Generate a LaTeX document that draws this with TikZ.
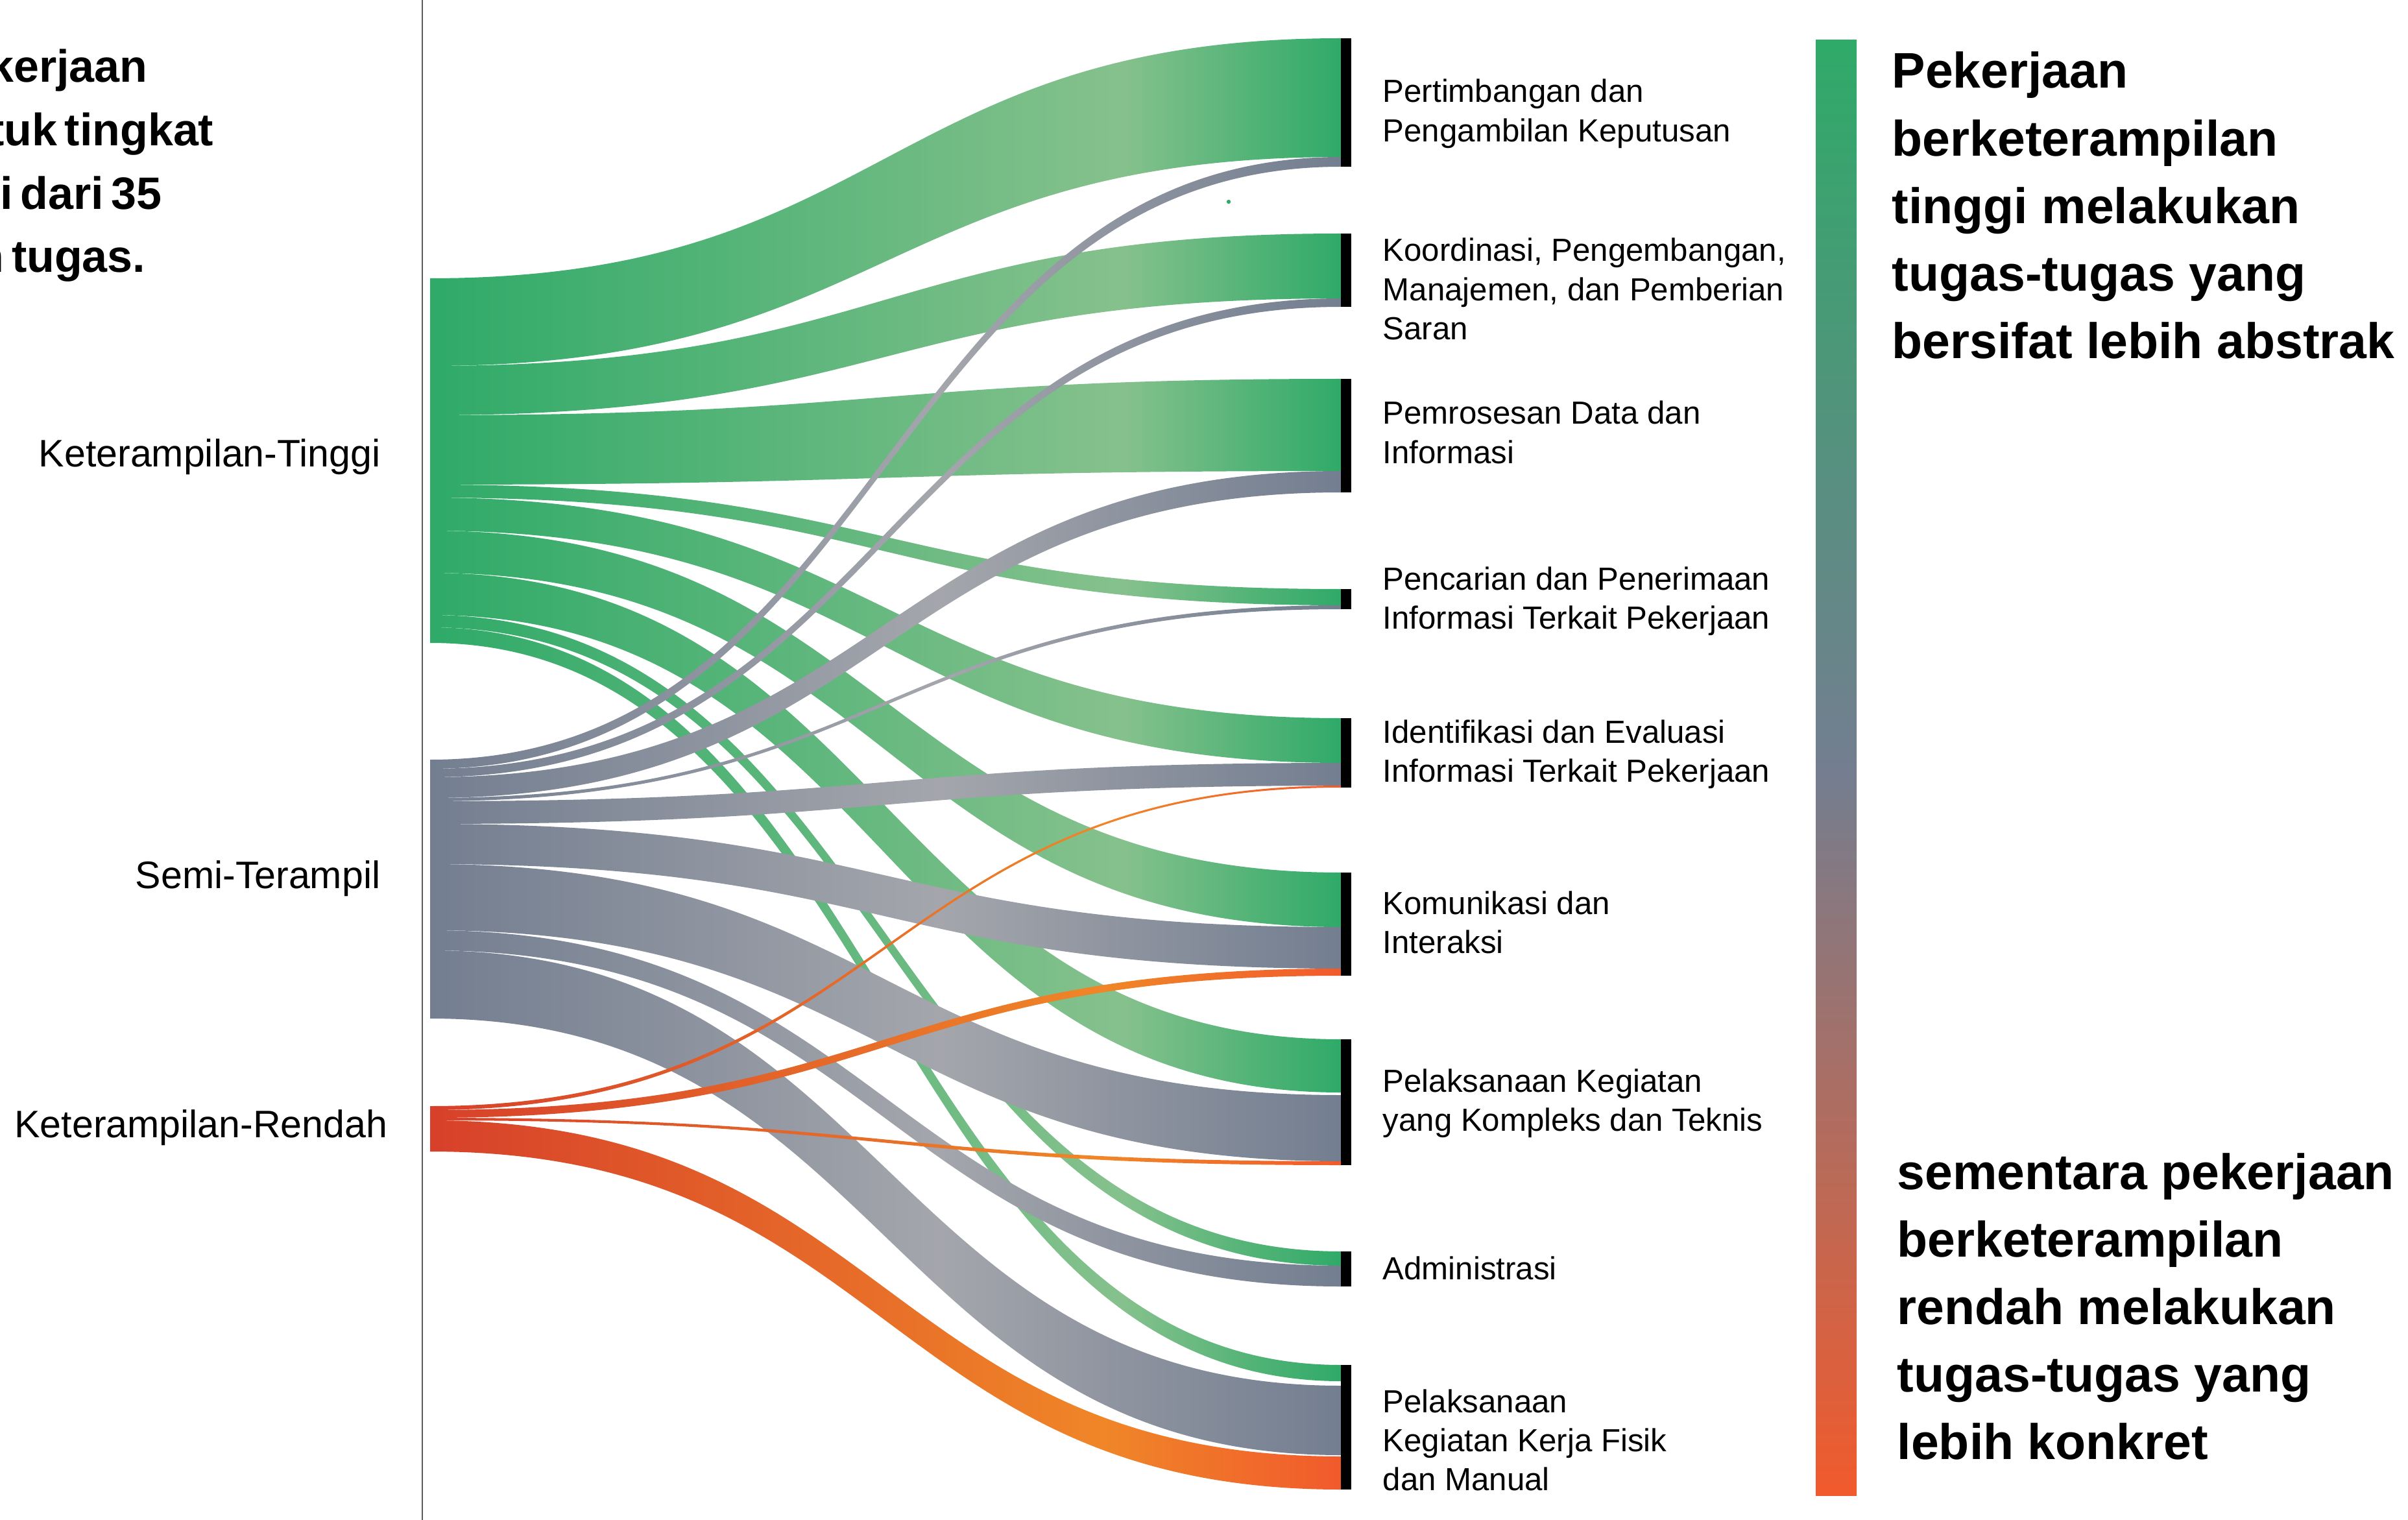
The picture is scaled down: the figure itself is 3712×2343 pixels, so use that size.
\documentclass[tikz,border=0pt]{standalone}
\usepackage{fontspec}
\setmainfont{Liberation Sans}
\newfontfamily\leftheadfont{Liberation Sans Bold}[WordSpace=0.6]
\usetikzlibrary{fit}
\definecolor{cg}{RGB}{47,170,104}
\definecolor{cgl}{RGB}{134,193,141}
\definecolor{cs}{RGB}{115,126,144}
\definecolor{csl}{RGB}{164,166,172}
\definecolor{coa}{RGB}{215,64,42}
\definecolor{cob}{RGB}{240,134,40}
\definecolor{coc}{RGB}{241,90,44}
\definecolor{rule}{RGB}{90,90,90}
\pgfdeclarehorizontalshading{gflow}{100bp}{color(0bp)=(cg); color(25bp)=(cg); color(63bp)=(cgl); color(75bp)=(cg); color(100bp)=(cg)}
\pgfdeclarehorizontalshading{sflow}{100bp}{color(0bp)=(cs); color(25bp)=(cs); color(53bp)=(csl); color(75bp)=(cs); color(100bp)=(cs)}
\pgfdeclarehorizontalshading{oflow}{100bp}{color(0bp)=(coa); color(25bp)=(coa); color(62bp)=(cob); color(75bp)=(coc); color(100bp)=(coc)}
\pgfdeclareverticalshading{cbarshade}{100bp}{color(0bp)=(coc); color(25bp)=(coc); color(50bp)=(cs); color(75bp)=(cg); color(100bp)=(cg)}
\newcommand\flowband[5]{%
  \shade[shading=#1] (663,#2) .. controls (1365,#2) and (1365,#4) .. (2067,#4) -- (2067,#5) .. controls (1365,#5) and (1365,#3) .. (663,#3) -- cycle;}
\newcommand\lines[1]{\begin{tabular}[t]{@{}l@{}}#1\end{tabular}}
\begin{document}
\begin{tikzpicture}[x=0.01cm,y=-0.01cm,
  bar/.style={inner sep=0pt, fill=black, draw=none},
  tasklabel/.style={anchor=base west, inner sep=0pt, font=\fontsize{14pt}{17.2pt}\selectfont},
  srclabel/.style={anchor=base east, inner sep=0pt, font=\fontsize{16.8pt}{20pt}\selectfont},
  headr/.style={anchor=base west, inner sep=0pt, font=\fontsize{21.9pt}{29.6pt}\selectfont\bfseries},
  headl/.style={anchor=base east, inner sep=0pt, font=\fontsize{19.9pt}{27.7pt}\selectfont\leftheadfont}]
\useasboundingbox (0,0) rectangle (3712,2343);
\fill[white] (0,0) rectangle (3712,2343);

% left headline (cut off at the page edge)
\node[headl] (h1) at (228,127) {kerjaan};
\node[headl] (h2) at (330,225) {tuk tingkat};
\node[headl] (h3) at (250,323) {i dari 35};
\node[headl] (h4) at (225,420) {n tugas.};

% vertical rule
\coordinate (rtop) at (651,0);
\coordinate (rbot) at (651,2343);
\draw[rule, line width=0.6pt] (rtop) -- (rbot);

% source labels
\node[srclabel] (kt) at (587,719) {Keterampilan-Tinggi};
\node[srclabel] (st) at (587,1369) {Semi-Terampil};
\node[srclabel] (kr) at (598,1753) {Keterampilan-Rendah};

% flows: high-skilled
\flowband{gflow}{429}{564}{59}{242}
\flowband{gflow}{564}{640}{360}{460}
\flowband{gflow}{640}{747}{584}{726}
\flowband{gflow}{747}{767}{908}{933}
\flowband{gflow}{767}{818}{1107}{1176}
\flowband{gflow}{818}{883}{1345}{1429}
\flowband{gflow}{883}{948}{1602}{1684}
\flowband{gflow}{948}{967}{1929}{1951}
\flowband{gflow}{967}{991}{2104}{2129}
% flows: semi-skilled
\flowband{sflow}{1171}{1185}{242}{257}
\flowband{sflow}{1185}{1198}{460}{473}
\flowband{sflow}{1198}{1230}{726}{759}
\flowband{sflow}{1230}{1235}{933}{939}
\flowband{sflow}{1235}{1270}{1176}{1211}
\flowband{sflow}{1270}{1332}{1429}{1493}
\flowband{sflow}{1332}{1434}{1688}{1790}
\flowband{sflow}{1434}{1465}{1951}{1983}
\flowband{sflow}{1465}{1570}{2136}{2243}
% flows: low-skilled
\flowband{oflow}{1705}{1711}{1211}{1214}
\flowband{oflow}{1711}{1723}{1493}{1504}
\flowband{oflow}{1723}{1727}{1790}{1796}
\flowband{oflow}{1727}{1775}{2245}{2296}

\fill[cg] (1894,311) circle[radius=0.9pt];

% target bars
\node[bar, fit={(2067,59) (2083,257)}] (t1) {};
\node[bar, fit={(2067,360) (2083,473)}] (t2) {};
\node[bar, fit={(2067,584) (2083,759)}] (t3) {};
\node[bar, fit={(2067,908) (2083,939)}] (t4) {};
\node[bar, fit={(2067,1107) (2083,1214)}] (t5) {};
\node[bar, fit={(2067,1345) (2083,1504)}] (t6) {};
\node[bar, fit={(2067,1602) (2083,1796)}] (t7) {};
\node[bar, fit={(2067,1929) (2083,1983)}] (t8) {};
\node[bar, fit={(2067,2104) (2083,2296)}] (t9) {};

% target labels
\node[tasklabel] (l1) at (2131,158) {\lines{Pertimbangan dan\\Pengambilan Keputusan}};
\node[tasklabel] (l2) at (2131,403) {\lines{Koordinasi, Pengembangan,\\Manajemen, dan Pemberian\\Saran}};
\node[tasklabel] (l3) at (2131,654) {\lines{Pemrosesan Data dan\\Informasi}};
\node[tasklabel] (l4) at (2131,909) {\lines{Pencarian dan Penerimaan\\Informasi Terkait Pekerjaan}};
\node[tasklabel] (l5) at (2131,1145) {\lines{Identifikasi dan Evaluasi\\Informasi Terkait Pekerjaan}};
\node[tasklabel] (l6) at (2131,1409) {\lines{Komunikasi dan\\Interaksi}};
\node[tasklabel] (l7) at (2131,1683) {\lines{Pelaksanaan Kegiatan\\yang Kompleks dan Teknis}};
\node[tasklabel] (l8) at (2131,1972) {Administrasi};
\node[tasklabel] (l9) at (2131,2177) {\lines{Pelaksanaan\\Kegiatan Kerja Fisik\\dan Manual}};

% colour bar
\shade[shading=cbarshade] (2799,62) rectangle (2862,2305);
\coordinate (cbar) at (2830,62);

% right headlines
\node[headr] (hr1) at (2916,136) {\lines{Pekerjaan\\berketerampilan\\tinggi melakukan\\tugas-tugas yang\\bersifat lebih abstrak}};
\node[headr] (hr2) at (2924,1833) {\lines{sementara pekerjaan\\berketerampilan\\rendah melakukan\\tugas-tugas yang\\lebih konkret}};
\end{tikzpicture}
\end{document}
